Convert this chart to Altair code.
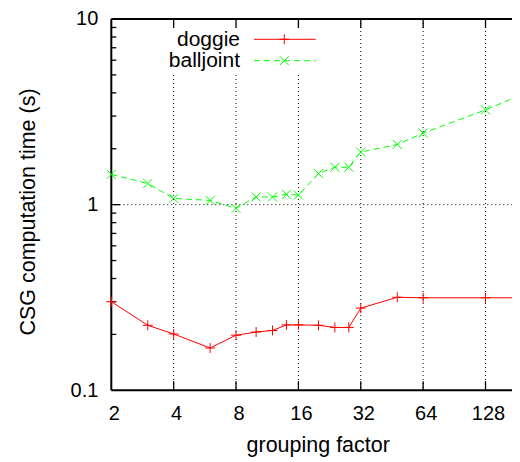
import altair as alt
import pandas as pd

# ---- data ----
factor = [2, 3, 4, 6, 8, 10, 12, 14, 16, 20, 24, 28, 32, 48, 64, 128, 192]
doggie = [0.300, 0.224, 0.201, 0.169, 0.198, 0.206, 0.210, 0.225, 0.225,
          0.224, 0.218, 0.218, 0.277, 0.317, 0.315, 0.315, 0.315]
balljoint = [1.455, 1.30, 1.08, 1.054, 0.955, 1.10, 1.10, 1.136, 1.126,
             1.47, 1.59, 1.59, 1.92, 2.11, 2.43, 3.24, 3.92]
series_names = ["doggie", "balljoint"]

x_tick_labels = [2, 4, 8, 16, 32, 64, 128]
x_grid = [4, 8, 16, 32, 64, 128]
y_tick_labels = [0.1, 1, 10]
y_grid = [1]
y_minor = [0.2, 0.3, 0.4, 0.5, 0.6, 0.7, 0.8, 0.9, 2, 3, 4, 5, 6, 7, 8, 9]

# ---- layout ----
FONT = "Liberation Sans"
W = 400.7          # visible width (page content is 504 wide)
W_RANGE = 410.7    # plot extends past the window (clipped), as in the reference
H = 371.3
RED = "#ff0000"
GREEN = "#00ff00"
PLUS = "M-1,0L1,0M0,-1L0,1"
CROSS = "M-1,-1L1,1M-1,1L1,-1"

xscale = alt.Scale(type="log", base=2, domain=[2, 192], range=[0, W_RANGE], nice=False)
yscale = alt.Scale(type="log", domain=[0.1, 10], nice=False)

d_dog = pd.DataFrame({"factor": factor, "time": doggie})
d_ball = pd.DataFrame({"factor": factor, "time": balljoint})
one = pd.DataFrame({"k": [0]})

x_axis = alt.Axis(values=x_tick_labels, format="d", domain=False, ticks=False, grid=False,
                  labelFont=FONT, labelFontSize=20, labelColor="black", labelPadding=13.7,
                  labelOffset=2.5, labelFlush=False, labelOverlap=False,
                  title="grouping factor", titleFont=FONT, titleFontSize=21.5,
                  titleFontWeight="normal", titleColor="black", titleX=206.4, titleY=61.4,
                  titleBaseline="alphabetic", titleAlign="center")
y_axis = alt.Axis(values=y_tick_labels, format="~g", domain=False, ticks=False, grid=False,
                  labelFont=FONT, labelFontSize=20, labelColor="black", labelPadding=13.5,
                  labelFlush=False, labelOverlap=False,
                  title="CSG computation time (s)", titleFont=FONT, titleFontSize=21.5,
                  titleFontWeight="normal", titleColor="black", titleAngle=270,
                  titleX=-76.5, titleY=192.5, titleBaseline="alphabetic", titleAlign="center")


def X(field):
    return alt.X(field, scale=xscale, axis=x_axis)


def Y(field):
    return alt.Y(field, scale=yscale, axis=y_axis)


# grid
vgrid = alt.Chart(pd.DataFrame({"factor": x_grid})).mark_rule(
    color="black", strokeWidth=1, strokeDash=[1, 3]).encode(
    x=X("factor:Q"), y=alt.value(0), y2=alt.value(H))
hgrid = alt.Chart(pd.DataFrame({"time": y_grid})).mark_rule(
    color="black", strokeWidth=1, strokeDash=[1, 3]).encode(
    y=Y("time:Q"), x=alt.value(0), x2=alt.value(W_RANGE))

# opaque key area
keybox = alt.Chart(one).mark_rect(color="white").encode(
    x=alt.value(40), x2=alt.value(218), y=alt.value(1.5), y2=alt.value(53))

# borders
border_left = alt.Chart(one).mark_rule(color="black", strokeWidth=2).encode(
    x=alt.value(0), y=alt.value(0), y2=alt.value(H))
border_top = alt.Chart(one).mark_rule(color="black", strokeWidth=2).encode(
    x=alt.value(0), x2=alt.value(W_RANGE), y=alt.value(0))
border_bottom = alt.Chart(one).mark_rule(color="black", strokeWidth=2).encode(
    x=alt.value(0), x2=alt.value(W_RANGE), y=alt.value(H))

# inward ticks
xt = pd.DataFrame({"factor": x_grid})
tick_bottom = alt.Chart(xt).mark_rule(color="black", strokeWidth=1.3).encode(
    x=X("factor:Q"), y=alt.value(H), y2=alt.value(H - 9))
tick_top = alt.Chart(xt).mark_rule(color="black", strokeWidth=1.3).encode(
    x=X("factor:Q"), y=alt.value(0), y2=alt.value(9))
ym = pd.DataFrame({"time": y_grid})
yn = pd.DataFrame({"time": y_minor})
tick_left_major = alt.Chart(ym).mark_rule(color="black", strokeWidth=1.3).encode(
    y=Y("time:Q"), x=alt.value(0), x2=alt.value(9))
tick_left_minor = alt.Chart(yn).mark_rule(color="black", strokeWidth=1.3).encode(
    y=Y("time:Q"), x=alt.value(0), x2=alt.value(5))

# data
dog_line = alt.Chart(d_dog).mark_line(color=RED, strokeWidth=1).encode(
    x=X("factor:Q"), y=Y("time:Q"))
dog_pts = alt.Chart(d_dog).mark_point(shape=PLUS, size=100, filled=False, color=RED,
                                      strokeWidth=1, opacity=1).encode(
    x=X("factor:Q"), y=Y("time:Q"))
ball_line = alt.Chart(d_ball).mark_line(color=GREEN, strokeWidth=1, strokeDash=[6, 4]).encode(
    x=X("factor:Q"), y=Y("time:Q"))
ball_pts = alt.Chart(d_ball).mark_point(shape=CROSS, size=81, filled=False, color=GREEN,
                                        strokeWidth=1, opacity=1).encode(
    x=X("factor:Q"), y=Y("time:Q"))


# key
def key_text(name, yb):
    return alt.Chart(one).mark_text(text=name, font=FONT, fontSize=21, color="black",
                                    align="right", baseline="alphabetic").encode(
        x=alt.value(128.7), y=alt.value(yb))


key_dog_t = key_text(series_names[0], 27)
key_ball_t = key_text(series_names[1], 48.3)
key_dog_l = alt.Chart(one).mark_rule(color=RED, strokeWidth=1).encode(
    x=alt.value(142.7), x2=alt.value(204.4), y=alt.value(20.3))
key_ball_l = alt.Chart(one).mark_rule(color=GREEN, strokeWidth=1, strokeDash=[6, 4]).encode(
    x=alt.value(142.7), x2=alt.value(204.4), y=alt.value(41.7))
key_dog_p = alt.Chart(one).mark_point(shape=PLUS, size=100, filled=False, color=RED,
                                      strokeWidth=1, opacity=1).encode(
    x=alt.value(173), y=alt.value(20.3))
key_ball_p = alt.Chart(one).mark_point(shape=CROSS, size=81, filled=False, color=GREEN,
                                       strokeWidth=1, opacity=1).encode(
    x=alt.value(173), y=alt.value(41.7))

chart = alt.layer(
    vgrid, hgrid, keybox,
    tick_bottom, tick_top, tick_left_major, tick_left_minor,
    border_left, border_top, border_bottom,
    dog_line, dog_pts, ball_line, ball_pts,
    key_dog_t, key_ball_t, key_dog_l, key_ball_l, key_dog_p, key_ball_p,
).properties(
    width=W, height=H, autosize=alt.AutoSizeParams(type="none"),
    padding={"left": 103.3, "top": 11, "right": 0, "bottom": 70},
    background="white",
).configure_view(stroke=None)

chart.save("out.html", embed_options={"renderer": "svg", "actions": False})
